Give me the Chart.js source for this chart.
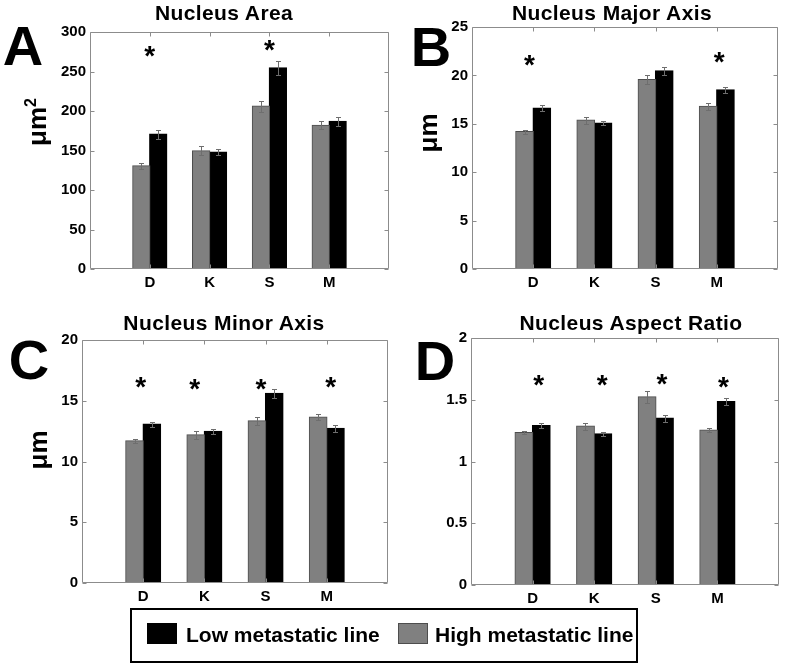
<!DOCTYPE html>
<html>
<head>
<meta charset="utf-8">
<script src="https://cdn.jsdelivr.net/npm/chart.js@4/dist/chart.umd.min.js"></script>
<style>
  body { margin: 0; width: 787px; height: 667px; background: #fff; position: relative; overflow: hidden;
         font-family: "Liberation Sans", Arial, sans-serif; font-weight: bold; color: #000; }
  canvas { position: absolute; }
  .c { position: absolute; transform: translate(-50%, -50%); line-height: 1; white-space: nowrap; }
  .title { font-size: 21px; letter-spacing: 0.4px; }
  .letter { font-size: 56px; }
  .ylab { font-size: 26px; transform: translate(-50%, -50%) rotate(-90deg); }
  .ylab sup { font-size: 16px; vertical-align: 10px; line-height: 0; }
  #legend { position: absolute; left: 130px; top: 608px; width: 508px; height: 55px; border: 2px solid #000; box-sizing: border-box; }
  .sw { position: absolute; top: 13px; width: 30px; height: 21px; box-sizing: border-box; }
  .lt { position: absolute; top: 24px; transform: translateY(-50%); font-size: 21px; line-height: 1; white-space: nowrap; }
</style>
</head>
<body>
<canvas id="area" width="395" height="300" style="left:0;top:0"></canvas>
<canvas id="major" width="392" height="300" style="left:395px;top:0"></canvas>
<canvas id="minor" width="395" height="310" style="left:0;top:300px"></canvas>
<canvas id="ratio" width="392" height="310" style="left:395px;top:300px"></canvas>

<div class="c title" style="left:224px;top:12px">Nucleus Area</div>
<div class="c title" style="left:612px;top:12px">Nucleus Major Axis</div>
<div class="c title" style="left:224px;top:322px">Nucleus Minor Axis</div>
<div class="c title" style="left:631px;top:322px">Nucleus Aspect Ratio</div>

<div class="c letter" style="left:23px;top:46px">A</div>
<div class="c letter" style="left:431px;top:47px">B</div>
<div class="c letter" style="left:29px;top:360px">C</div>
<div class="c letter" style="left:435px;top:361px">D</div>

<div class="c ylab" style="left:37px;top:122px">μm<sup>2</sup></div>
<div class="c ylab" style="left:428px;top:133px">μm</div>
<div class="c ylab" style="left:38px;top:450px">μm</div>

<div id="legend">
  <div class="sw" style="left:15px;background:#000"></div>
  <div class="lt" style="left:54px">Low metastatic line</div>
  <div class="sw" style="left:266px;background:#808080;border:1px solid #4d4d4d"></div>
  <div class="lt" style="left:303px">High metastatic line</div>
</div>

<script>
const categories = ['D', 'K', 'S', 'M'];

// Nucleus Area (µm²)
const areaHigh = [130.4, 149.4, 206, 181.8];
const areaHighErr = [3.5, 5.7, 6.7, 5];
const areaLow = [170.5, 147.7, 254.4, 186.9];
const areaLowErr = [5.5, 4, 8.3, 5.3];
const areaTicks = [0, 50, 100, 150, 200, 250, 300];
const areaStarX = [0, 2];
const areaStarY = [275, 283];

// Nucleus Major Axis (µm)
const majorHigh = [14.18, 15.36, 19.56, 16.8];
const majorHighErr = [0.2, 0.35, 0.45, 0.35];
const majorLow = [16.6, 15.05, 20.45, 18.5];
const majorLowErr = [0.3, 0.2, 0.45, 0.3];
const majorTicks = [0, 5, 10, 15, 20, 25];
const majorStarX = [-0.06, 3.04];
const majorStarY = [21.5, 21.9];

// Nucleus Minor Axis (µm)
const minorHigh = [11.69, 12.18, 13.33, 13.64];
const minorHighErr = [0.19, 0.3, 0.3, 0.26];
const minorLow = [13.06, 12.48, 15.61, 12.73];
const minorLowErr = [0.22, 0.2, 0.38, 0.27];
const minorTicks = [0, 5, 10, 15, 20];
const minorStarX = [-0.04, 0.84, 1.925, 3.065];
const minorStarY = [16.5, 16.3, 16.3, 16.5];

// Nucleus Aspect Ratio
const ratioHigh = [1.233, 1.285, 1.522, 1.253];
const ratioHighErr = [0.014, 0.03, 0.05, 0.018];
const ratioLow = [1.29, 1.223, 1.35, 1.484];
const ratioLowErr = [0.019, 0.013, 0.027, 0.027];
const ratioTicks = [0, 0.5, 1, 1.5, 2];
const ratioStarX = [0.1, 1.13, 2.1, 3.1];
const ratioStarY = [1.654, 1.654, 1.66, 1.641];

const tickFont = { family: '"Liberation Sans", Arial, sans-serif', size: 15, weight: 'bold' };
const pad = a => [null, ...a, null];

function makePanel(id, s, box) {
  const errs = [pad(s.highErr), pad(s.lowErr)];

  // error bars, axes box with inward ticks, significance stars
  const extras = {
    id: 'extras',
    afterDatasetsDraw(chart) {
      const { ctx, chartArea: a, scales: { x, y } } = chart;
      ctx.save();
      ctx.lineWidth = 1;
      ctx.strokeStyle = '#6e6e6e';
      ctx.beginPath();
      chart.data.datasets.forEach((ds, di) => {
        chart.getDatasetMeta(di).data.forEach((bar, i) => {
          const v = ds.data[i], e = errs[di][i];
          if (v == null) return;
          const bx = Math.round(bar.x) + 0.5;
          const t = Math.round(y.getPixelForValue(v + e)) + 0.5;
          const b = Math.round(y.getPixelForValue(v - e)) + 0.5;
          ctx.moveTo(bx, t); ctx.lineTo(bx, b);
          ctx.moveTo(bx - 2.5, t); ctx.lineTo(bx + 2.5, t);
          ctx.moveTo(bx - 2.5, b); ctx.lineTo(bx + 2.5, b);
        });
      });
      ctx.stroke();

      ctx.strokeStyle = '#8c8c8c';
      const L = Math.round(a.left) + 0.5, R = Math.round(a.right) - 0.5;
      const T = Math.round(a.top) + 0.5, B = Math.round(a.bottom) - 0.5;
      ctx.beginPath();
      ctx.rect(L, T, R - L, B - T);
      y.ticks.forEach(t => {
        const py = Math.round(y.getPixelForValue(t.value)) + 0.5;
        ctx.moveTo(L, py); ctx.lineTo(L + 4, py);
        ctx.moveTo(R, py); ctx.lineTo(R - 4, py);
      });
      categories.forEach((c, i) => {
        const px = Math.round(x.getPixelForValue(i + 1)) + 0.5;
        ctx.moveTo(px, T); ctx.lineTo(px, T + 4);
        ctx.moveTo(px, B); ctx.lineTo(px, B - 4);
      });
      ctx.stroke();

      ctx.fillStyle = '#000';
      ctx.font = 'bold 28px "Liberation Sans", Arial, sans-serif';
      ctx.textAlign = 'center';
      ctx.textBaseline = 'alphabetic';
      const m = ctx.measureText('*');
      const off = (m.actualBoundingBoxAscent - m.actualBoundingBoxDescent) / 2;
      s.starX.forEach((sx, k) => {
        ctx.fillText('*', x.getPixelForValue(sx + 1), y.getPixelForValue(s.starY[k]) + off);
      });
      ctx.restore();
    }
  };

  new Chart(document.getElementById(id), {
    type: 'bar',
    data: {
      labels: ['', ...categories, ''],
      datasets: [
        { label: 'High metastatic line', data: pad(s.high), backgroundColor: '#808080', borderColor: '#4d4d4d', borderWidth: 1, inflateAmount: 0.7 },
        { label: 'Low metastatic line', data: pad(s.low), backgroundColor: '#000', borderColor: '#000', borderWidth: 1, inflateAmount: 0.7 }
      ]
    },
    options: {
      responsive: false,
      animation: false,
      datasets: { bar: { categoryPercentage: 0.565, barPercentage: 1 } },
      layout: { padding: { left: 0, top: box.top, right: box.right, bottom: box.bottom } },
      plugins: { legend: { display: false }, tooltip: { enabled: false } },
      scales: {
        x: {
          offset: false,
          grid: { display: false, drawTicks: false },
          border: { display: false },
          ticks: { font: tickFont, color: '#000', padding: 5, maxRotation: 0, autoSkip: false },
          afterFit: sc => { sc.height = 24; }
        },
        y: {
          min: s.ticks[0],
          max: s.ticks[s.ticks.length - 1],
          grid: { display: false, drawTicks: false },
          border: { display: false },
          ticks: { font: tickFont, color: '#000', padding: 4, callback: v => String(v) },
          afterBuildTicks: sc => { sc.ticks = s.ticks.map(v => ({ value: v })); },
          afterFit: sc => { sc.width = box.yw; }
        }
      }
    },
    plugins: [extras]
  });
}

makePanel('area',
  { high: areaHigh, highErr: areaHighErr, low: areaLow, lowErr: areaLowErr, ticks: areaTicks, starX: areaStarX, starY: areaStarY },
  { yw: 90, top: 32, right: 6, bottom: 7 });
makePanel('major',
  { high: majorHigh, highErr: majorHighErr, low: majorLow, lowErr: majorLowErr, ticks: majorTicks, starX: majorStarX, starY: majorStarY },
  { yw: 77, top: 27, right: 9, bottom: 7 });
makePanel('minor',
  { high: minorHigh, highErr: minorHighErr, low: minorLow, lowErr: minorLowErr, ticks: minorTicks, starX: minorStarX, starY: minorStarY },
  { yw: 82, top: 40, right: 7, bottom: 3 });
makePanel('ratio',
  { high: ratioHigh, highErr: ratioHighErr, low: ratioLow, lowErr: ratioLowErr, ticks: ratioTicks, starX: ratioStarX, starY: ratioStarY },
  { yw: 76, top: 38, right: 8, bottom: 1 });
</script>
</body>
</html>
